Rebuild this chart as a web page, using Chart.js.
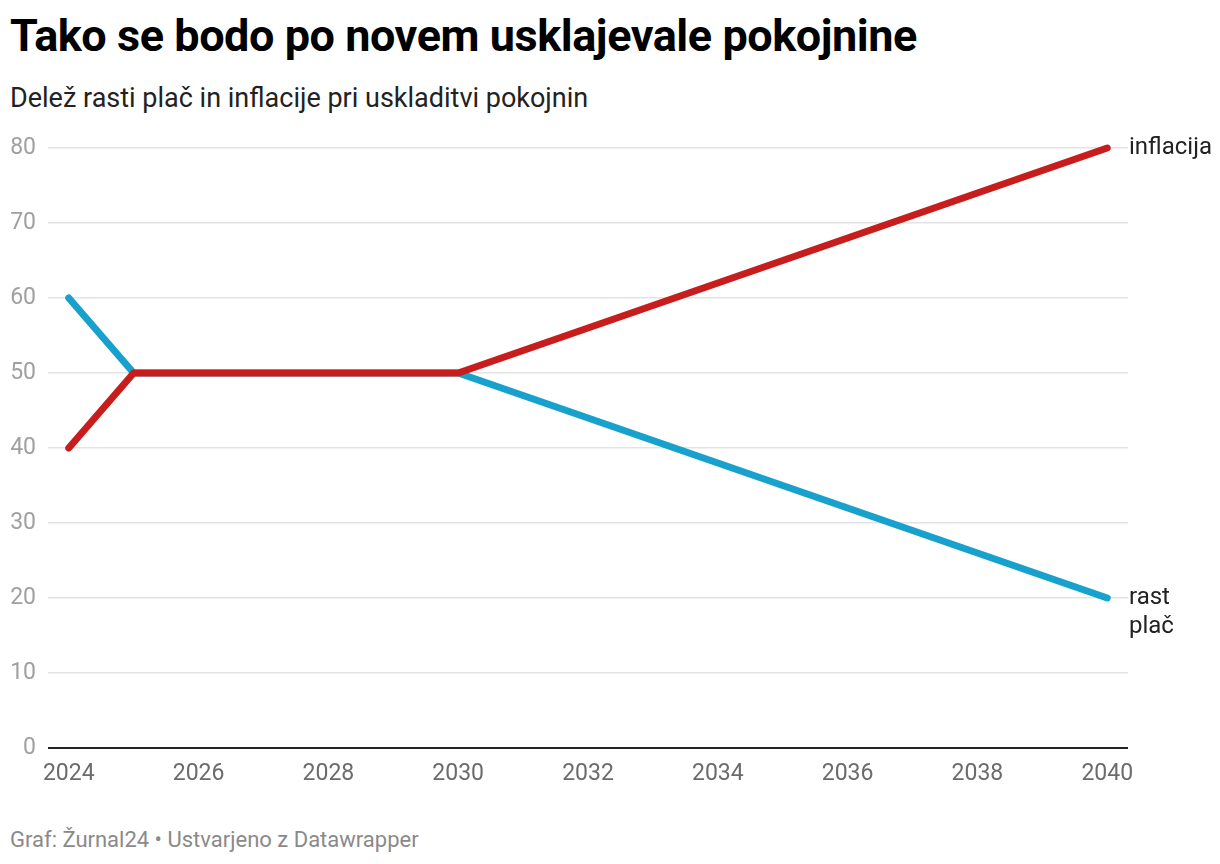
<!DOCTYPE html>
<html>
<head>
<meta charset="utf-8">
<script src="https://cdn.jsdelivr.net/npm/chart.js@4/dist/chart.umd.min.js"></script>
<style>
  body { margin: 0; background: #fff; font-family: Roboto, sans-serif; }
  #page { position: relative; width: 1220px; height: 864px; overflow: hidden; }
  h1 { position: absolute; left: 10px; top: 9px; margin: 0; font-size: 45px; line-height: 54px; font-weight: 700; color: #000; letter-spacing: -0.45px; }
  .sub { position: absolute; left: 10px; top: 81px; font-size: 27px; line-height: 34px; color: #222; }
  .foot { position: absolute; left: 10px; top: 826px; font-size: 22px; line-height: 28px; color: #8a8a8a; }
  #wrap { position: absolute; left: 0; top: 120px; width: 1220px; height: 680px; }
</style>
</head>
<body>
<div id="page">
  <h1>Tako se bodo po novem usklajevale pokojnine</h1>
  <div class="sub">Delež rasti plač in inflacije pri uskladitvi pokojnin</div>
  <div id="wrap"><canvas id="myChart"></canvas></div>
  <div class="foot">Graf: Žurnal24 • Ustvarjeno z Datawrapper</div>
</div>
<script>
var years = [2024, 2025, 2030, 2040];
var rastPlac = [60, 50, 50, 20];
var inflacija = [40, 50, 50, 80];
var xTicks = [2024, 2026, 2028, 2030, 2032, 2034, 2036, 2038, 2040];
var yTicks = [0, 10, 20, 30, 40, 50, 60, 70, 80];

function toPoints(vals) {
  var pts = [];
  for (var i = 0; i < years.length; i++) {
    pts.push({ x: years[i], y: vals[i] });
  }
  return pts;
}

var endLabels = {
  id: 'endLabels',
  afterDatasetsDraw: function(chart) {
    var ctx = chart.ctx;
    ctx.save();
    ctx.font = '24px Roboto';
    ctx.fillStyle = '#222';
    ctx.textBaseline = 'middle';
    ctx.textAlign = 'left';
    chart.data.datasets.forEach(function(ds, i) {
      var pt = chart.getDatasetMeta(i).data[ds.data.length - 1];
      var lines = ds.endLabel;
      var x = chart.chartArea.right + 1;
      for (var j = 0; j < lines.length; j++) {
        ctx.fillText(lines[j], x, pt.y + j * 29);
      }
    });
    ctx.restore();
  }
};

function init() {
  var ctx = document.getElementById('myChart').getContext('2d');
  // first dataset is drawn on top, so inflacija goes first
  new Chart(ctx, {
    type: 'line',
    data: {
      datasets: [{
        label: 'inflacija',
        endLabel: ['inflacija'],
        data: toPoints(inflacija),
        borderColor: '#c71e1d',
        borderWidth: 7,
        borderCapStyle: 'round',
        borderJoinStyle: 'round',
        pointRadius: 0,
        clip: false
      }, {
        label: 'rast plač',
        endLabel: ['rast', 'plač'],
        data: toPoints(rastPlac),
        borderColor: '#18a1cd',
        borderWidth: 7,
        borderCapStyle: 'round',
        borderJoinStyle: 'round',
        pointRadius: 0,
        clip: false
      }]
    },
    options: {
      responsive: true,
      maintainAspectRatio: false,
      animation: false,
      layout: { padding: { top: 28, right: 92, bottom: 12, left: 0 } },
      plugins: { legend: { display: false }, tooltip: { enabled: false } },
      scales: {
        x: {
          type: 'linear',
          min: 2023.68,
          max: 2040.32,
          afterBuildTicks: function(scale) {
            scale.ticks = xTicks.map(function(v) { return { value: v }; });
          },
          afterFit: function(scale) { scale.height = 40; },
          grid: { display: false, drawTicks: false },
          border: { display: false },
          ticks: {
            padding: 12,
            color: '#6b6b6b',
            font: { family: 'Roboto', size: 23 },
            maxRotation: 0,
            callback: function(v) { return String(v); }
          }
        },
        y: {
          min: 0,
          max: 80,
          afterBuildTicks: function(scale) {
            scale.ticks = yTicks.map(function(v) { return { value: v }; });
          },
          afterFit: function(scale) { scale.width = 48; },
          grid: {
            drawTicks: false,
            color: function(c) { return c.tick.value === 0 ? '#222' : '#e3e3e3'; },
            lineWidth: function(c) { return c.tick.value === 0 ? 2 : 1.5; }
          },
          border: { display: false },
          ticks: {
            padding: 12,
            color: '#a0a0a0',
            font: { family: 'Roboto', size: 23 }
          }
        }
      }
    },
    plugins: [endLabels]
  });
}

init();
</script>
</body>
</html>
